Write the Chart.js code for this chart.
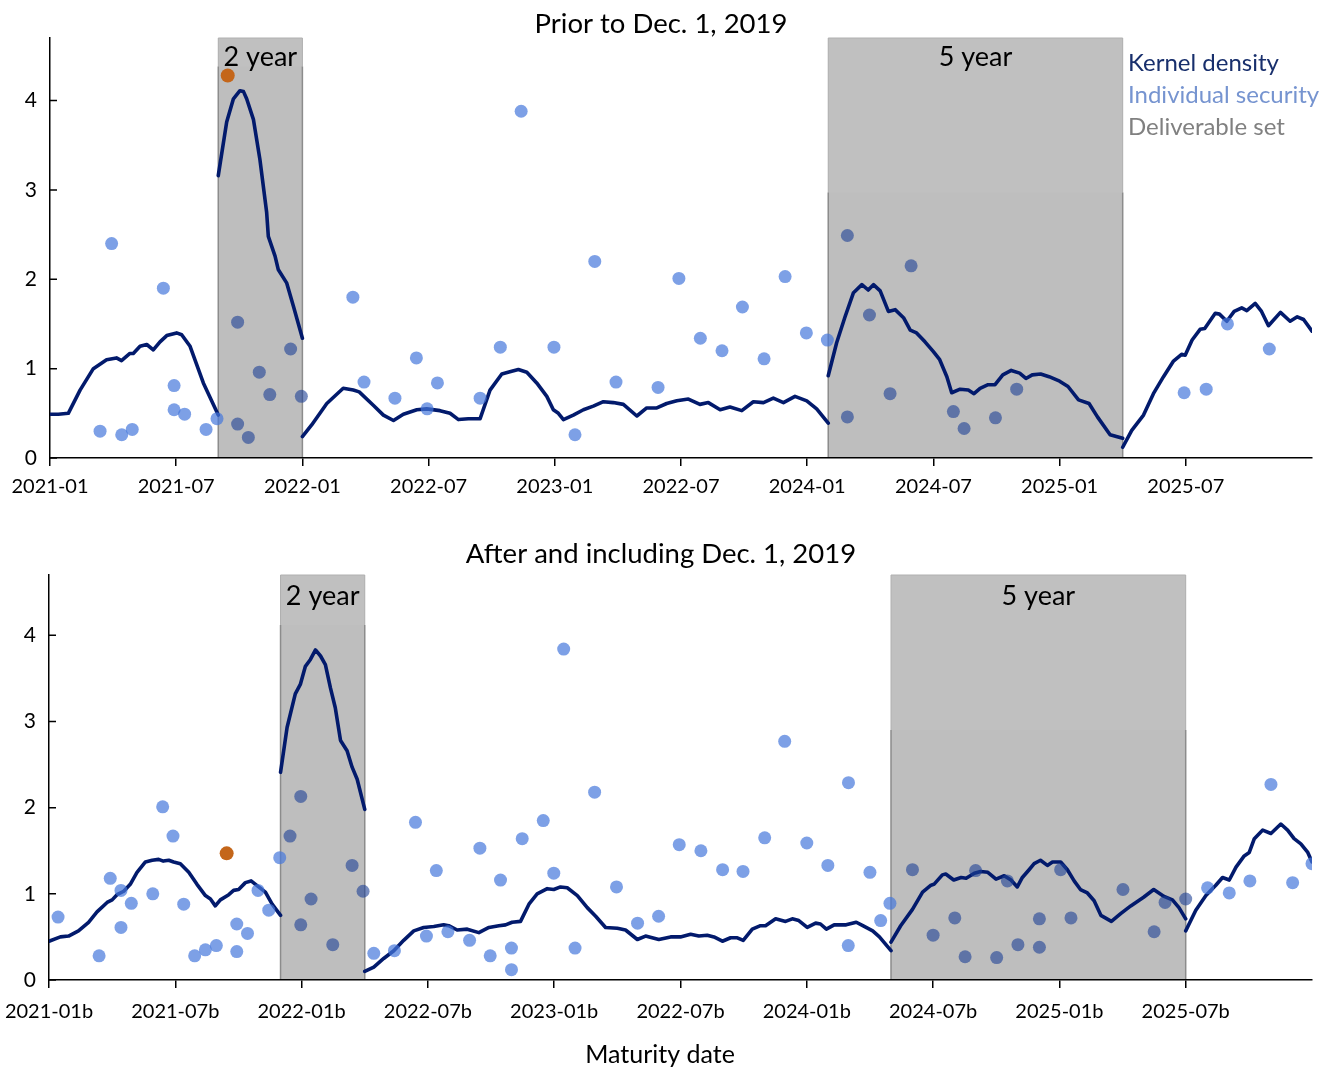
<!DOCTYPE html>
<html>
<head>
<meta charset="utf-8">
<script src="https://cdn.jsdelivr.net/npm/chart.js@4.4.1/dist/chart.umd.min.js"></script>
<style>
  html, body { margin: 0; padding: 0; background: #fff; }
  .panel { position: absolute; left: 0; }
  #topPanel { top: 0; }
  #bottomPanel { top: 520px; }
</style>
</head>
<body>
<div class="panel" id="topPanel"><canvas id="chartTop" width="1332" height="520"></canvas></div>
<div class="panel" id="bottomPanel"><canvas id="chartBottom" width="1332" height="548"></canvas></div>
<script>
const FONT = 'Lato, "Noto Sans", sans-serif';

// x axis is months after 2021-01
const xTickMonths = [0, 6, 12, 18, 24, 30, 36, 42, 48, 54];
const xTickLabelsTop = ['2021-01', '2021-07', '2022-01', '2022-07', '2023-01', '2022-07', '2024-01', '2024-07', '2025-01', '2025-07'];
const xTickLabelsBottom = xTickLabelsTop.map(s => s + 'b');
const yTickValues = [0, 1, 2, 3, 4];

// deliverable sets [from, to]
const delivTop = [[8, 12], [37, 51]];
const delivBottom = [[11, 15], [40, 54]];
const delivNames = ['2 year', '5 year'];

// kernel density, prior to Dec. 1, 2019 (one array per piece)
const kdeTop1 = [[0,0.49],[0.4,0.49],[0.87,0.50],[1.43,0.76],[2.06,1.0],[2.69,1.10],[3.16,1.12],[3.4,1.09],[3.8,1.17],[3.96,1.17],[4.28,1.25],[4.6,1.27],[4.91,1.21],[5.23,1.30],[5.55,1.37],[6.02,1.40],[6.26,1.38],[6.66,1.25],[7.29,0.84],[8,0.48]];
const kdeTop2 = [[8,3.16],[8.4,3.76],[8.72,4.02],[9.03,4.11],[9.2,4.10],[9.35,4.02],[9.67,3.79],[9.98,3.34],[10.3,2.75],[10.38,2.48],[10.7,2.26],[10.85,2.11],[11.25,1.96],[11.57,1.70],[12,1.34]];
const kdeTop3 = [[12,0.24],[12.44,0.37],[13.16,0.61],[13.94,0.78],[14.42,0.76],[14.7,0.74],[15.37,0.59],[15.85,0.48],[16.33,0.42],[16.8,0.49],[17.44,0.54],[17.91,0.55],[18.54,0.53],[19.02,0.50],[19.42,0.43],[19.89,0.44],[20.45,0.44],[20.92,0.76],[21.48,0.94],[21.95,0.97],[22.27,0.99],[22.67,0.96],[23.14,0.84],[23.62,0.69],[23.93,0.54],[24.17,0.50],[24.41,0.43],[24.88,0.48],[25.36,0.54],[25.83,0.58],[26.31,0.63],[26.78,0.62],[27.26,0.60],[27.9,0.47],[28.37,0.56],[28.85,0.56],[29.32,0.61],[29.8,0.64],[30.35,0.66],[30.9,0.60],[31.3,0.62],[31.86,0.54],[32.33,0.57],[32.89,0.53],[33.44,0.63],[33.92,0.62],[34.39,0.67],[34.87,0.62],[35.42,0.69],[35.98,0.64],[36.45,0.55],[37,0.39]];
const kdeTop4 = [[37,0.92],[37.4,1.29],[37.8,1.58],[38.2,1.85],[38.6,1.94],[38.9,1.88],[39.15,1.94],[39.47,1.87],[39.86,1.64],[40.18,1.66],[40.58,1.57],[40.9,1.43],[41.2,1.40],[41.6,1.30],[42.0,1.19],[42.3,1.10],[42.64,0.91],[42.87,0.73],[43.27,0.77],[43.66,0.76],[43.93,0.72],[44.22,0.78],[44.6,0.82],[44.93,0.82],[45.3,0.93],[45.7,0.98],[46.1,0.95],[46.4,0.89],[46.7,0.93],[47.1,0.94],[47.5,0.91],[48.0,0.86],[48.4,0.80],[48.9,0.65],[49.4,0.61],[49.8,0.46],[50.4,0.26],[51,0.22]];
const kdeTop5 = [[51,0.12],[51.43,0.31],[51.99,0.48],[52.46,0.72],[52.94,0.91],[53.4,1.08],[53.8,1.16],[53.97,1.15],[54.3,1.32],[54.68,1.44],[54.9,1.45],[55.4,1.62],[55.6,1.61],[55.95,1.53],[56.3,1.64],[56.66,1.68],[56.9,1.65],[57.3,1.73],[57.6,1.64],[57.93,1.48],[58.5,1.63],[58.96,1.53],[59.3,1.58],[59.6,1.55],[60,1.42]];

// individual securities, prior
const secTopX = [2.38, 2.93, 3.41, 3.91, 5.39, 5.9, 5.9, 6.4, 7.42, 7.94, 8.92, 8.92, 9.43, 9.95, 10.45, 11.44, 11.95, 14.4, 14.93, 16.4, 17.42, 17.93, 18.42, 20.45, 21.41, 22.4, 23.96, 24.96, 25.9, 26.91, 28.91, 29.9, 30.92, 31.95, 32.92, 33.95, 34.95, 35.96, 36.96, 37.91, 37.91, 38.96, 39.94, 40.94, 42.95, 43.46, 44.95, 45.96, 53.92, 54.97, 55.98, 57.97];
const secTopY = [0.30, 2.40, 0.26, 0.32, 1.90, 0.81, 0.54, 0.49, 0.32, 0.44, 1.52, 0.38, 0.23, 0.96, 0.71, 1.22, 0.69, 1.80, 0.85, 0.67, 1.12, 0.55, 0.84, 0.67, 1.24, 3.88, 1.24, 0.26, 2.20, 0.85, 0.79, 2.01, 1.34, 1.20, 1.69, 1.11, 2.03, 1.40, 1.32, 0.46, 2.49, 1.60, 0.72, 2.15, 0.52, 0.33, 0.45, 0.77, 0.73, 0.77, 1.50, 1.22];
const ctdTop = [8.45, 4.28];

// kernel density, after and including Dec. 1, 2019
const kdeBot1 = [[0,0.45],[0.54,0.50],[0.93,0.51],[1.4,0.57],[1.88,0.67],[2.28,0.79],[2.76,0.90],[3.0,0.93],[3.23,0.99],[3.55,1.03],[3.86,1.11],[4.18,1.25],[4.58,1.37],[4.9,1.39],[5.21,1.40],[5.43,1.38],[5.69,1.39],[5.92,1.37],[6.24,1.35],[6.64,1.25],[7.03,1.11],[7.43,0.98],[7.67,0.94],[7.9,0.86],[8.14,0.93],[8.54,0.99],[8.77,1.04],[9.01,1.05],[9.33,1.13],[9.6,1.15],[9.96,1.08],[10.28,1.02],[10.6,0.88],[11,0.75]];
const kdeBot2 = [[11,2.41],[11.31,2.93],[11.7,3.32],[11.94,3.43],[12.18,3.64],[12.42,3.72],[12.66,3.83],[12.9,3.76],[13.13,3.66],[13.37,3.39],[13.6,3.16],[13.85,2.78],[14.16,2.66],[14.4,2.47],[14.64,2.33],[15,1.98]];
const kdeBot3 = [[15,0.10],[15.43,0.15],[15.9,0.25],[16.38,0.34],[16.85,0.46],[17.33,0.57],[17.8,0.61],[18.28,0.62],[18.75,0.64],[18.99,0.63],[19.39,0.58],[19.87,0.59],[20.42,0.55],[20.9,0.61],[21.37,0.63],[21.69,0.64],[22.0,0.67],[22.4,0.68],[22.8,0.88],[23.19,1.0],[23.67,1.06],[23.98,1.05],[24.3,1.08],[24.62,1.07],[25.1,0.98],[25.57,0.84],[25.97,0.74],[26.44,0.61],[27.0,0.60],[27.39,0.58],[27.95,0.47],[28.34,0.51],[28.97,0.47],[29.53,0.50],[30.0,0.50],[30.48,0.53],[30.87,0.51],[31.27,0.52],[31.59,0.50],[31.99,0.45],[32.38,0.49],[32.7,0.49],[32.98,0.46],[33.41,0.59],[33.8,0.63],[34.04,0.63],[34.52,0.71],[34.99,0.68],[35.31,0.71],[35.62,0.69],[36.02,0.61],[36.42,0.66],[36.65,0.65],[36.93,0.59],[37.3,0.64],[37.87,0.64],[38.35,0.67],[38.66,0.63],[39.13,0.57],[39.45,0.50],[40,0.34]];
const kdeBot4 = [[40,0.44],[40.46,0.63],[41.02,0.82],[41.5,1.02],[41.9,1.10],[42.04,1.11],[42.44,1.22],[42.6,1.23],[42.98,1.16],[43.33,1.19],[43.57,1.18],[43.96,1.24],[44.26,1.26],[44.6,1.25],[44.99,1.17],[45.38,1.21],[45.7,1.16],[46.0,1.08],[46.24,1.19],[46.56,1.28],[46.8,1.35],[47.1,1.39],[47.43,1.33],[47.67,1.37],[48.06,1.37],[48.38,1.28],[48.7,1.15],[49.0,1.05],[49.33,1.01],[49.65,0.92],[49.97,0.75],[50.47,0.68],[50.91,0.77],[51.39,0.86],[52.0,0.96],[52.48,1.05],[52.97,0.97],[53.37,0.93],[53.68,0.84],[54,0.71]];
const kdeBot5 = [[54,0.57],[54.48,0.81],[54.96,0.98],[55.43,1.10],[55.75,1.19],[56.07,1.16],[56.39,1.31],[56.78,1.44],[57.02,1.48],[57.26,1.64],[57.66,1.74],[58.05,1.70],[58.52,1.81],[58.84,1.74],[59.15,1.64],[59.47,1.58],[59.8,1.48],[60,1.37]];

// individual securities, after
const secBotX = [0.43, 2.38, 2.91, 3.42, 3.42, 3.91, 4.93, 5.4, 5.89, 6.4, 6.92, 7.43, 7.95, 8.92, 8.92, 9.43, 9.93, 10.44, 10.96, 11.45, 11.96, 11.96, 12.45, 13.48, 14.4, 14.92, 15.43, 16.41, 17.41, 17.93, 18.4, 18.95, 19.98, 20.47, 20.96, 21.45, 21.97, 21.97, 22.48, 23.48, 23.98, 24.45, 24.99, 25.92, 26.96, 27.96, 28.96, 29.94, 30.97, 32.0, 32.97, 34.0, 34.95, 36.0, 37.0, 37.97, 37.98, 39.0, 39.51, 39.95, 41.02, 42.0, 43.03, 43.52, 44.02, 45.02, 45.53, 46.03, 47.05, 47.05, 48.06, 48.55, 51.02, 52.5, 53.02, 54.0, 55.04, 56.07, 57.05, 58.05, 59.08, 60.0];
const secBotY = [0.73, 0.28, 1.18, 1.04, 0.61, 0.89, 1.00, 2.01, 1.67, 0.88, 0.28, 0.35, 0.40, 0.65, 0.33, 0.54, 1.04, 0.81, 1.42, 1.67, 2.13, 0.64, 0.94, 0.41, 1.33, 1.03, 0.31, 0.34, 1.83, 0.51, 1.27, 0.56, 0.46, 1.53, 0.28, 1.16, 0.37, 0.12, 1.64, 1.85, 1.24, 3.84, 0.37, 2.18, 1.08, 0.66, 0.74, 1.57, 1.50, 1.28, 1.26, 1.65, 2.77, 1.59, 1.33, 0.40, 2.29, 1.25, 0.69, 0.89, 1.28, 0.52, 0.72, 0.27, 1.27, 0.26, 1.15, 0.41, 0.71, 0.38, 1.28, 0.72, 1.05, 0.56, 0.90, 0.94, 1.07, 1.01, 1.15, 2.27, 1.13, 1.35];
const ctdBottom = [8.44, 1.47];

const LINE_COLOR = '#021a6c';
const DOT_OUT = 'rgba(70, 120, 220, 0.7)';
const DOT_IN = 'rgba(30, 65, 150, 0.6)';
const CTD_COLOR = '#c4661a';

function joinSegments(segs) {
  const out = [];
  segs.forEach((seg, i) => {
    if (i > 0) out.push({ x: seg[0][0], y: null });
    seg.forEach(p => out.push({ x: p[0], y: p[1] }));
  });
  return out;
}

function inBand(m, bands) {
  return bands.some(b => m >= b[0] && m <= b[1]);
}

function makePanel(canvasId, p) {
  const panelPlugin = {
    id: 'panelDeco',
    beforeDraw(chart) {
      const { ctx, chartArea, scales: { x, y } } = chart;
      p.bands.forEach((b, i) => {
        const x0 = x.getPixelForValue(b[0]);
        const x1 = x.getPixelForValue(b[1]);
        const yb = y.getPixelForValue(p.boxBottom[i]);
        ctx.save();
        ctx.fillStyle = '#bebebe';
        ctx.fillRect(x0, chartArea.top, x1 - x0, chartArea.bottom - chartArea.top);
        ctx.fillStyle = '#c0c0c0';
        ctx.fillRect(x0, chartArea.top, x1 - x0, yb - chartArea.top);
        // faint edge round the label box, darker band edges below it
        ctx.strokeStyle = '#b0b0b0';
        ctx.lineWidth = 1;
        ctx.beginPath();
        ctx.moveTo(x0, yb); ctx.lineTo(x0, chartArea.top); ctx.lineTo(x1, chartArea.top); ctx.lineTo(x1, yb);
        ctx.stroke();
        ctx.strokeStyle = '#8c8c8c';
        ctx.lineWidth = 1.5;
        ctx.beginPath();
        ctx.moveTo(x0, yb); ctx.lineTo(x0, chartArea.bottom);
        ctx.moveTo(x1, yb); ctx.lineTo(x1, chartArea.bottom);
        ctx.stroke();
        ctx.fillStyle = '#000';
        ctx.font = '27px ' + FONT;
        ctx.textAlign = 'center';
        ctx.textBaseline = 'middle';
        ctx.fillText(delivNames[i], (x0 + x1) / 2, chartArea.top + p.labelDy);
        ctx.restore();
      });
    },
    afterDraw(chart) {
      const { ctx, chartArea, scales: { y } } = chart;
      ctx.save();
      // inward y ticks
      ctx.strokeStyle = '#000';
      ctx.lineWidth = 1.5;
      ctx.beginPath();
      yTickValues.forEach(v => {
        const py = y.getPixelForValue(v);
        ctx.moveTo(chartArea.left, py);
        ctx.lineTo(chartArea.left + 7, py);
      });
      ctx.stroke();
      ctx.fillStyle = '#000';
      ctx.textAlign = 'center';
      ctx.textBaseline = 'middle';
      ctx.font = '27.5px ' + FONT;
      ctx.fillText(p.title, 661, p.titleY);
      if (p.xTitle) {
        ctx.font = '25px ' + FONT;
        ctx.fillText(p.xTitle, 660, p.xTitleY);
      }
      if (p.legend) {
        ctx.textAlign = 'left';
        ctx.font = '24px ' + FONT;
        ctx.fillStyle = '#182f6c';
        ctx.fillText('Kernel density', 1128, 63);
        ctx.fillStyle = '#7694d0';
        ctx.fillText('Individual security', 1128, 95);
        ctx.fillStyle = '#808080';
        ctx.fillText('Deliverable set', 1128, 127);
      }
      ctx.restore();
    }
  };

  return new Chart(document.getElementById(canvasId), {
    type: 'scatter',
    data: {
      datasets: [
        {
          label: 'Individual security',
          data: p.secX.map((m, i) => ({ x: m, y: p.secY[i] })),
          pointRadius: 6.5,
          borderWidth: 0,
          backgroundColor: c => (c.raw && inBand(c.raw.x, p.bands)) ? DOT_IN : DOT_OUT
        },
        {
          label: 'Cheapest to deliver',
          data: [{ x: p.ctd[0], y: p.ctd[1] }],
          pointRadius: 7,
          borderWidth: 0,
          backgroundColor: CTD_COLOR
        },
        {
          label: 'Kernel density',
          data: joinSegments(p.kde),
          showLine: true,
          spanGaps: false,
          pointRadius: 0,
          borderColor: LINE_COLOR,
          borderWidth: 3.6,
          borderJoinStyle: 'round',
          borderCapStyle: 'round'
        }
      ]
    },
    options: {
      responsive: false,
      animation: false,
      events: [],
      layout: { padding: { top: p.padTop, right: 20, left: 0, bottom: 0 } },
      plugins: { legend: { display: false }, tooltip: { enabled: false }, title: { display: false } },
      scales: {
        x: {
          type: 'linear',
          min: 0,
          max: 60,
          afterBuildTicks: s => { s.ticks = xTickMonths.map(v => ({ value: v })); },
          afterFit: s => { s.height = p.xAxisHeight; s.paddingLeft = 0; s.paddingRight = 0; },
          ticks: {
            autoSkip: false,
            maxRotation: 0,
            padding: p.xTickPad,
            color: '#000',
            font: { family: FONT, size: 20 },
            callback: (v, i) => p.xLabels[i]
          },
          grid: { drawOnChartArea: false, drawTicks: true, tickLength: 8, color: '#000', lineWidth: 1.5 },
          border: { display: true, color: '#000', width: 1.5 }
        },
        y: {
          type: 'linear',
          min: 0,
          max: 4.7,
          afterBuildTicks: s => { s.ticks = yTickValues.map(v => ({ value: v })); },
          afterFit: s => { s.width = p.yAxisWidth; s.paddingTop = 0; s.paddingBottom = 0; },
          ticks: {
            padding: 13,
            color: '#000',
            font: { family: FONT, size: 21 },
            callback: v => String(v)
          },
          grid: { display: true, drawOnChartArea: false, drawTicks: false },
          border: { display: true, color: '#000', width: 1.5 }
        }
      }
    },
    plugins: [panelPlugin]
  });
}

makePanel('chartTop', {
  kde: [kdeTop1, kdeTop2, kdeTop3, kdeTop4, kdeTop5],
  secX: secTopX, secY: secTopY, ctd: ctdTop,
  bands: delivTop, boxBottom: [4.38, 2.97], labelDy: 19,
  xLabels: xTickLabelsTop,
  title: 'Prior to Dec. 1, 2019', titleY: 24,
  legend: true,
  padTop: 38, xAxisHeight: 62, yAxisWidth: 50, xTickPad: 9
});

makePanel('chartBottom', {
  kde: [kdeBot1, kdeBot2, kdeBot3, kdeBot4, kdeBot5],
  secX: secBotX, secY: secBotY, ctd: ctdBottom,
  bands: delivBottom, boxBottom: [4.12, 2.9], labelDy: 21,
  xLabels: xTickLabelsBottom,
  title: 'After and including Dec. 1, 2019', titleY: 34,
  xTitle: 'Maturity date', xTitleY: 535,
  legend: false,
  padTop: 55, xAxisHeight: 88, yAxisWidth: 49, xTickPad: 12
});
</script>
</body>
</html>
